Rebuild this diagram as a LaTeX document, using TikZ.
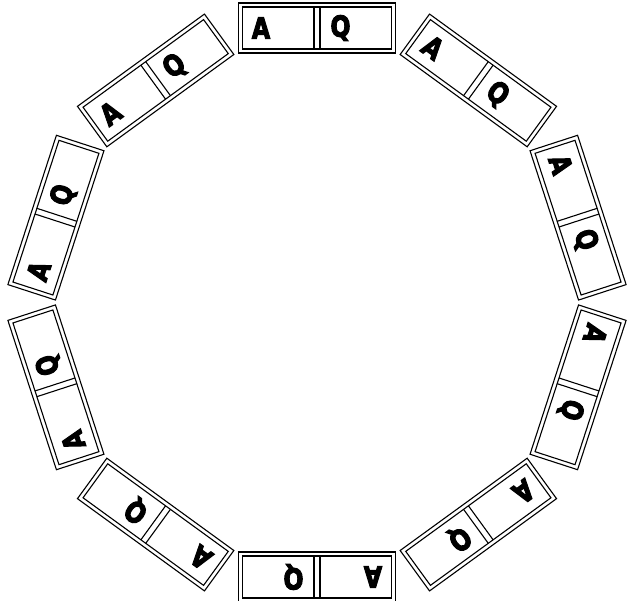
\documentclass[tikz,border=0pt]{standalone}
\usepackage{fontspec}
\newfontfamily\tilefont[BoldFeatures={FakeBold=4}]{DejaVu Sans}
\tikzset{
  tileline/.style={draw=black,line width=1.1pt},
  letter/.style={font=\tilefont\bfseries\fontsize{28.8}{29}\selectfont,inner sep=0pt,transform shape,xscale=0.82},
}
\begin{document}
\begin{tikzpicture}[x=1pt,y=1pt]
  \useasboundingbox (-317,-298.5) rectangle (317,302.5);
  % ten tiles round the ring, A and Q on each
  \foreach \ang [count=\i] in {90,54,18,-18,-54,-90,-126,-162,-198,-234} {
    \begin{scope}[shift={(\ang:274.5)},rotate=\ang-90]
      \draw[tileline] (-78.5,-25) rectangle (78.5,25);
      \draw[tileline] (-74.5,-21) rectangle (74.5,21);
      \draw[tileline] (-3,-21) -- (-3,21);
      \draw[tileline] (3,-21) -- (3,21);
      \node[letter] (a\i) at (-56,0) {A};
      \node[letter] (q\i) at (23.5,0) {Q};
    \end{scope}
  }
\end{tikzpicture}
\end{document}
